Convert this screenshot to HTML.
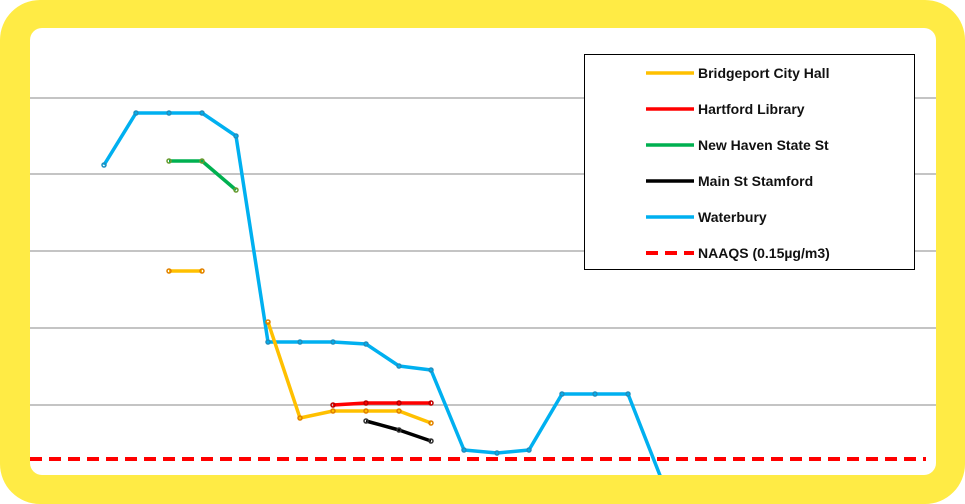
<!DOCTYPE html><html><head><style>html,body{margin:0;padding:0;background:#fff}</style></head><body>
<svg width="965" height="504" xmlns="http://www.w3.org/2000/svg" style="display:block">
<rect x="0" y="0" width="965" height="504" rx="40" fill="#FFEB45"/>
<rect x="30" y="28" width="906" height="447" rx="12" fill="#fff"/>
<g stroke="#a0a0a0" stroke-width="1.3">
<line x1="30" y1="98" x2="936" y2="98"/><line x1="30" y1="174" x2="936" y2="174"/><line x1="30" y1="251" x2="936" y2="251"/><line x1="30" y1="328" x2="936" y2="328"/><line x1="30" y1="405" x2="936" y2="405"/>
</g>
<line x1="30" y1="459" x2="926" y2="459" stroke="#ff0000" stroke-width="4" stroke-dasharray="12,7"/>
<g fill="none" stroke-width="3.5" stroke-linejoin="round">
<polyline stroke="#00B0F0" points="104,165 136,113 169,113 202,113 236,136 268,342 300,342 333,342 366,344 399,366 431,370 464,450 497,453 529,450 562,394 595,394 628,394 661,478 693,478 726,478 758,478 791,478 830,478"/>
<polyline stroke="#00B050" points="169,161 202,161 236,190"/>
<polyline stroke="#FFC000" points="169,271 202,271"/>
<polyline stroke="#FFC000" points="268,322 300,418 333,411 366,411 399,411 431,423"/>
<polyline stroke="#ff0000" points="333,405 366,403 399,403 431,403"/>
<polyline stroke="#000" points="366,421 399,430 431,441"/>
</g>
<rect x="30" y="475" width="906" height="10" fill="#FFEB45"/>
<g stroke-width="1.5" fill="none">
<g stroke="#1f8fbf"><circle cx="104" cy="165" r="2"/><circle cx="136" cy="113" r="2"/><circle cx="169" cy="113" r="2"/><circle cx="202" cy="113" r="2"/><circle cx="236" cy="136" r="2"/><circle cx="268" cy="342" r="2"/><circle cx="300" cy="342" r="2"/><circle cx="333" cy="342" r="2"/><circle cx="366" cy="344" r="2"/><circle cx="399" cy="366" r="2"/><circle cx="431" cy="370" r="2"/><circle cx="464" cy="450" r="2"/><circle cx="497" cy="453" r="2"/><circle cx="529" cy="450" r="2"/><circle cx="562" cy="394" r="2"/><circle cx="595" cy="394" r="2"/><circle cx="628" cy="394" r="2"/></g>
<g stroke="#6a9a30"><circle cx="169" cy="161" r="2"/><circle cx="202" cy="161" r="2"/><circle cx="236" cy="190" r="2"/></g>
<g stroke="#e08000"><circle cx="169" cy="271" r="2"/><circle cx="202" cy="271" r="2"/><circle cx="268" cy="322" r="2"/><circle cx="300" cy="418" r="2"/><circle cx="333" cy="411" r="2"/><circle cx="366" cy="411" r="2"/><circle cx="399" cy="411" r="2"/><circle cx="431" cy="423" r="2"/></g>
<g stroke="#b00"><circle cx="333" cy="405" r="2"/><circle cx="366" cy="403" r="2"/><circle cx="399" cy="403" r="2"/><circle cx="431" cy="403" r="2"/></g>
<g stroke="#333"><circle cx="366" cy="421" r="2"/><circle cx="399" cy="430" r="2"/><circle cx="431" cy="441" r="2"/></g>
</g>
<rect x="584.5" y="54.5" width="330" height="215" fill="#fff" stroke="#000" stroke-width="1"/>
<g stroke-width="3.5">
<line x1="646" y1="73" x2="694" y2="73" stroke="#FFC000"/>
<line x1="646" y1="109" x2="694" y2="109" stroke="#ff0000"/>
<line x1="646" y1="145" x2="694" y2="145" stroke="#00B050"/>
<line x1="646" y1="181" x2="694" y2="181" stroke="#000"/>
<line x1="646" y1="217" x2="694" y2="217" stroke="#00B0F0"/>
<line x1="646" y1="253" x2="694" y2="253" stroke="#ff0000" stroke-width="4" stroke-dasharray="12,7"/>
</g>
<g font-family="Liberation Sans, sans-serif" font-weight="bold" font-size="14" fill="#111">
<text x="698" y="78">Bridgeport City Hall</text>
<text x="698" y="114">Hartford Library</text>
<text x="698" y="150">New Haven State St</text>
<text x="698" y="186">Main St Stamford</text>
<text x="698" y="222">Waterbury</text>
<text x="698" y="258">NAAQS (0.15µg/m3)</text>
</g>
</svg>
</body></html>
